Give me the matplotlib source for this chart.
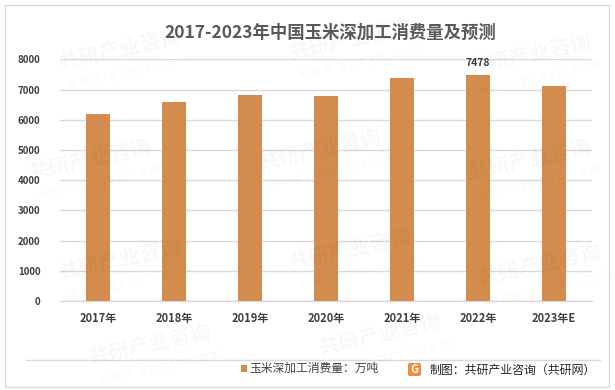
import matplotlib
matplotlib.use("Agg")
import matplotlib.pyplot as plt
from matplotlib.patches import Rectangle, FancyBboxPatch
from matplotlib.lines import Line2D

plt.rcParams['font.family'] = ['Noto Sans CJK SC', 'DejaVu Sans']

categories = ["2017年", "2018年", "2019年", "2020年", "2021年", "2022年", "2023年E"]
values = [6200, 6600, 6830, 6790, 7370, 7478, 7120]
yticks = [0, 1000, 2000, 3000, 4000, 5000, 6000, 7000, 8000]
title = "2017-2023年中国玉米深加工消费量及预测"
legend_label = "玉米深加工消费量：万吨"
source = "制图：共研产业咨询（共研网）"

W, H = 615, 390
fig = plt.figure(figsize=(W / 100, H / 100), dpi=100)
fig.patch.set_facecolor("white")

def fx(x):
    return x / W

def fy(y):
    return 1 - y / H

# outer border
fig.add_artist(Rectangle((fx(5), fy(387)), fx(604), (382) / H, transform=fig.transFigure,
                         fill=False, edgecolor="#D9D9D9", linewidth=1.0))

# watermarks (faint)
wm_pos = [(120, 50), (350, 40), (530, 55), (90, 160), (320, 150), (530, 160),
          (120, 260), (350, 250), (540, 265), (150, 345), (380, 335)]
for (x, y) in wm_pos:
    fig.text(fx(x), fy(y), "共研产业咨询", fontsize=15, fontweight="bold", color="#000000",
             alpha=0.03, rotation=12, ha="center", va="center")
    fig.text(fx(x + 10), fy(y + 22), "w w w . g o n y n . c o m", fontsize=8.5, color="#000000",
             alpha=0.03, rotation=12, ha="center", va="center")

ax = fig.add_axes([fx(60), fy(301), fx(592) - fx(60), (301 - 59.3) / H])
ax.set_facecolor("none")
x = list(range(len(categories)))
bars = ax.bar(x, values, width=0.32, color="#D48B4E", zorder=3)
ax.set_xlim(-0.5, len(categories) - 0.5)
ax.set_ylim(0, 8000)
ax.set_yticks(yticks)
ax.set_yticklabels([str(t) for t in yticks], fontsize=7, color="#404040", fontweight="bold")
ax.set_xticks(x)
ax.set_xticklabels(categories, fontsize=8, color="#404040", fontweight="bold")
ax.tick_params(axis="both", length=0)
ax.tick_params(axis="y", pad=14)
ax.tick_params(axis="x", pad=8)
ax.grid(axis="y", color="#D9D9D9", linewidth=1.0, zorder=0)
for s in ["top", "right", "left"]:
    ax.spines[s].set_visible(False)
ax.spines["bottom"].set_color("#D9D9D9")
ax.spines["bottom"].set_linewidth(1.0)

# data label for 2022
i = categories.index("2022年")
ax.annotate(str(values[i]), (x[i], values[i]), xytext=(0, 5), textcoords="offset points",
            ha="center", va="bottom", fontsize=7.5, fontweight="bold", color="#404040")

# title
fig.text(fx(330), fy(33), title, fontsize=12.5, fontweight="bold", color="#595959",
         ha="center", va="center")

# separator line
fig.add_artist(Line2D([fx(26), fx(600)], [fy(359.5), fy(359.5)], transform=fig.transFigure,
                      color="#D9D9D9", linewidth=1.0))

# legend
fig.add_artist(Rectangle((fx(241), fy(371.5)), 6 / W, 7 / H, transform=fig.transFigure,
                         facecolor="#D48B4E", edgecolor="none"))
fig.text(fx(249), fy(368), legend_label, fontsize=8.5, color="#404040", ha="left", va="center")

# logo + source
fig.add_artist(FancyBboxPatch((fx(408), fy(376)), 13 / W, 13 / H, transform=fig.transFigure,
                              boxstyle="round,pad=0,rounding_size=0.004",
                              facecolor="#F08A3C", edgecolor="none"))
fig.text(fx(414.5), fy(369.5), "G", fontsize=8, fontweight="bold", color="white",
         ha="center", va="center")
fig.text(fx(430), fy(370), source, fontsize=8.6, color="#262626", ha="left", va="center")

fig.savefig("out.png", dpi=100, facecolor="white")
